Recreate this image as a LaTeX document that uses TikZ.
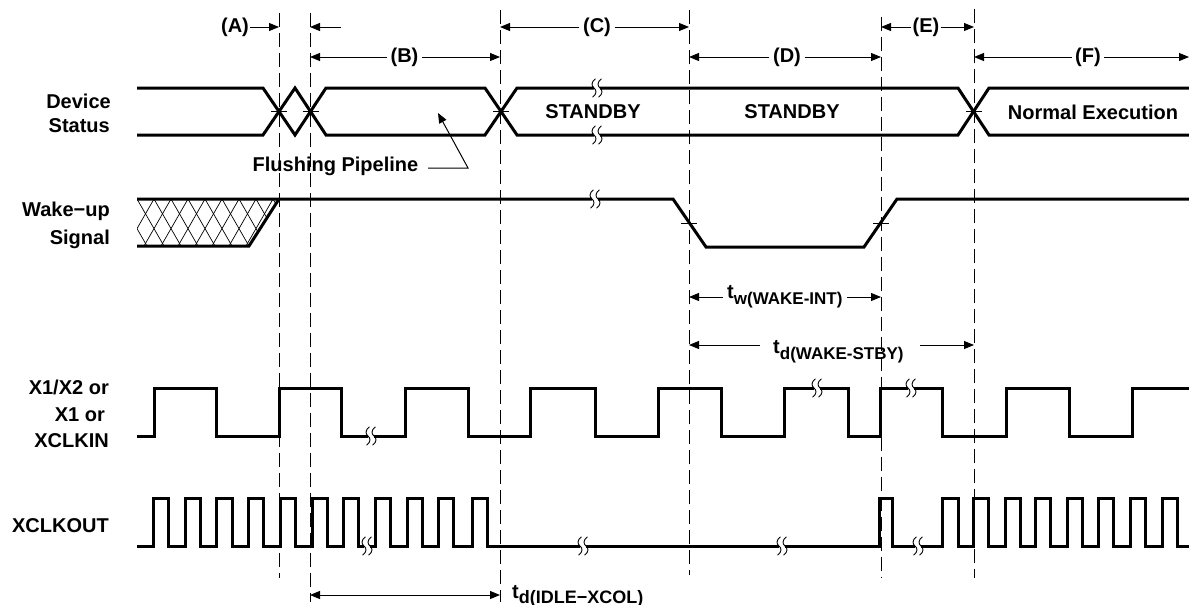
\documentclass[tikz,border=0pt]{standalone}
\usepackage{fontspec}
\setmainfont{Liberation Sans}
\usetikzlibrary{arrows.meta}
\tikzset{
  brk/.pic={
    \fill[white] (-3.4,-2.7) rectangle (3.4,2.7);
    \foreach \dx in {-3,3}{
      \draw[line width=0.9pt,line cap=round] (\dx+1.2,-9) .. controls (\dx-2.8,-6) and (\dx-2.8,-2) .. (\dx,0) .. controls (\dx+2.8,2) and (\dx+2.8,6) .. (\dx-1.2,9);
    }
  }
}
\begin{document}
\begin{tikzpicture}[x=1pt,y=-1pt,
  sig/.style={line width=3pt,line join=miter},
  vdash/.style={line width=1pt,dash pattern=on 14pt off 6pt},
  dim/.style={line width=1pt,-{Triangle[length=10pt,width=8pt]}},
  dimb/.style={line width=1pt,{Triangle[length=10pt,width=8pt]}-{Triangle[length=10pt,width=8pt]}},
  tick/.style={line width=0.8pt},
  lbl/.style={font=\bfseries\fontsize{20}{24}\selectfont,inner sep=0pt},
  rowlbl/.style={lbl,inner xsep=3.5pt},
  siglbl/.style={lbl,anchor=base east}
]
\fill[white] (0,0) rectangle (1189,605);
\useasboundingbox (0,0) rectangle (1189,605);

% ---- dashed reference lines
\coordinate (L1t) at (279,13);  \coordinate (L1b) at (279,578);
\coordinate (L2t) at (310,13);  \coordinate (L2b) at (310,602);
\coordinate (L3t) at (500,10);  \coordinate (L3b) at (500,602);
\coordinate (L4t) at (689,10);  \coordinate (L4b) at (689,575);
\coordinate (L5t) at (881,17);  \coordinate (L5b) at (881,578);
\coordinate (L6t) at (974,9);   \coordinate (L6b) at (974,578);
\foreach \n in {1,...,6} \draw[vdash] (L\n t) -- (L\n b);

% ---- phase arrows, row 1
\node[lbl,inner xsep=1pt] (A) at (235,27) {(A)};
\coordinate (L1r1) at (279,27);
\draw[dim] (A.east) -- (L1r1);
\coordinate (L2r1) at (310,27);
\coordinate (L2s) at (341,27);
\draw[dim] (L2s) -- (L2r1);
\node[rowlbl] (C) at (597,27) {(C)};
\coordinate (L3r1) at (500,27);
\coordinate (L4r1) at (689,27);
\draw[dim] (C.west) -- (L3r1);
\draw[dim] (C.east) -- (L4r1);
\node[rowlbl,inner xsep=1pt] (E) at (926,27) {(E)};
\coordinate (L5r1) at (881,27);
\coordinate (L6r1) at (974,27);
\draw[dim] (E.west) -- (L5r1);
\draw[dim] (E.east) -- (L6r1);

% ---- phase arrows, row 2
\node[rowlbl] (B) at (404.5,57) {(B)};
\coordinate (L2r2) at (310,57);
\coordinate (L3r2) at (500,57);
\draw[dim] (B.west) -- (L2r2);
\draw[dim] (B.east) -- (L3r2);
\node[rowlbl] (D) at (787,57) {(D)};
\coordinate (L4r2) at (689,57);
\coordinate (L5r2) at (881,57);
\draw[dim] (D.west) -- (L4r2);
\draw[dim] (D.east) -- (L5r2);
\node[rowlbl] (F) at (1088,57) {(F)};
\coordinate (L6r2) at (974,57);
\coordinate (Rr2) at (1189,57);
\draw[dim] (F.west) -- (L6r2);
\draw[dim] (F.east) -- (Rr2);

% ---- signal labels
\node[siglbl] (dev) at (111,108.5) {Device};
\node[siglbl] (sta) at (110,132) {Status};
\node[siglbl] (wak) at (110,216.5) {Wake−up};
\node[siglbl] (sgn) at (110,244.5) {Signal};
\node[siglbl] (x1a) at (109,394) {X1/X2 or};
\node[siglbl] (x1b) at (109,421) {X1 or\kern4pt};
\node[siglbl] (x1c) at (109,447) {XCLKIN};
\node[siglbl] (xco) at (109,532) {XCLKOUT};

% ---- Device Status
\draw[sig] (137,88) -- (263,88) -- (295,135) -- (326,88) -- (485,88) -- (517,135) -- (958,135) -- (989,88) -- (1189,88);
\draw[sig] (137,135) -- (263,135) -- (295,88) -- (326,135) -- (485,135) -- (517,88) -- (958,88) -- (989,135) -- (1189,135);
\foreach \x in {279,310.5,501,974} \draw[tick] (\x-8,111.5) -- (\x+8,111.5);
\pic at (597,88) {brk};
\pic at (597,135) {brk};
\node[lbl] (sb1) at (593,112) {STANDBY};
\node[lbl] (sb2) at (792,112) {STANDBY};
\node[lbl] (ne) at (1093,112) {Normal Execution};
\node[lbl,anchor=base] (fp) at (335.5,171) {Flushing Pipeline};
\coordinate (fpa) at (428,168);
\coordinate (fpb) at (468,168);
\coordinate (fpc) at (438,113);
\draw[dim] (fpa) -- (fpb) -- (fpc);

% ---- Wake-up signal
\begin{scope}
  \clip (137,199) -- (279,199) -- (249,246) -- (137,246) -- cycle;
  \foreach \i in {-2,...,11}{
    \draw[line width=0.7pt] (137+17*\i,199) -- ++(27,47);
    \draw[line width=0.7pt] (137+17*\i,199) -- ++(-27,47);
  }
\end{scope}
\draw[sig] (137,246) -- (249,246) -- (279,199);
\draw[sig] (137,199) -- (673,199) -- (706,247) -- (864,247) -- (897,199) -- (1189,199);
\draw[tick] (681,223) -- (697,223);
\draw[tick] (873,223) -- (889,223);
\pic at (595,199) {brk};

% ---- timing labels
\node[lbl,anchor=base west] (tw) at (727,298) {t\raisebox{-6pt}{\fontsize{17}{18}\selectfont w(WAKE-INT)}};
\coordinate (twl) at (723,297); \coordinate (L4tw) at (689,297);
\coordinate (twr) at (847,297); \coordinate (L5tw) at (881,297);
\draw[dim] (twl) -- (L4tw);
\draw[dim] (twr) -- (L5tw);

\node[lbl,anchor=base west] (td) at (773,353) {t\raisebox{-6pt}{\fontsize{17}{18}\selectfont d(WAKE-STBY)}};
\coordinate (tdl) at (760,345); \coordinate (L4td) at (689,345);
\coordinate (tdr) at (920,345); \coordinate (L6td) at (974,345);
\draw[dim] (tdl) -- (L4td);
\draw[dim] (tdr) -- (L6td);

\node[lbl,anchor=base west] (ti) at (512,598) {t\raisebox{-5pt}{\fontsize{18}{18}\selectfont d(IDLE−XCOL)}};
\coordinate (L2ti) at (310,595); \coordinate (L3ti) at (500,595);
\draw[dimb] (L2ti) -- (L3ti);

% ---- X1/X2 clock
\draw[sig] (137,436) \foreach \a/\b in {154/216,279/341,405/468,530/595,658/721,784/848,880/942,1006/1069} { -| (\a,388) -| (\b,436) } -| (1132,388) -- (1189,388);
\pic at (371,436) {brk};
\pic at (817,388) {brk};
\pic at (911,388) {brk};

% ---- XCLKOUT
\draw[sig] (137,546) \foreach \a/\b in {153/168,185/200,216/232,248/263,280/295,312/327,343/358,375/390,407/422,438/453,472/487,879/892,942/958,973/988,1005/1020,1035/1050,1067/1082,1098/1113,1130/1145,1162/1177} { -| (\a,498) -| (\b,546) } -- (1189,546);
\pic at (367,546) {brk};
\pic at (583,546) {brk};
\pic at (782,546) {brk};
\pic at (918,546) {brk};
\end{tikzpicture}
\end{document}
